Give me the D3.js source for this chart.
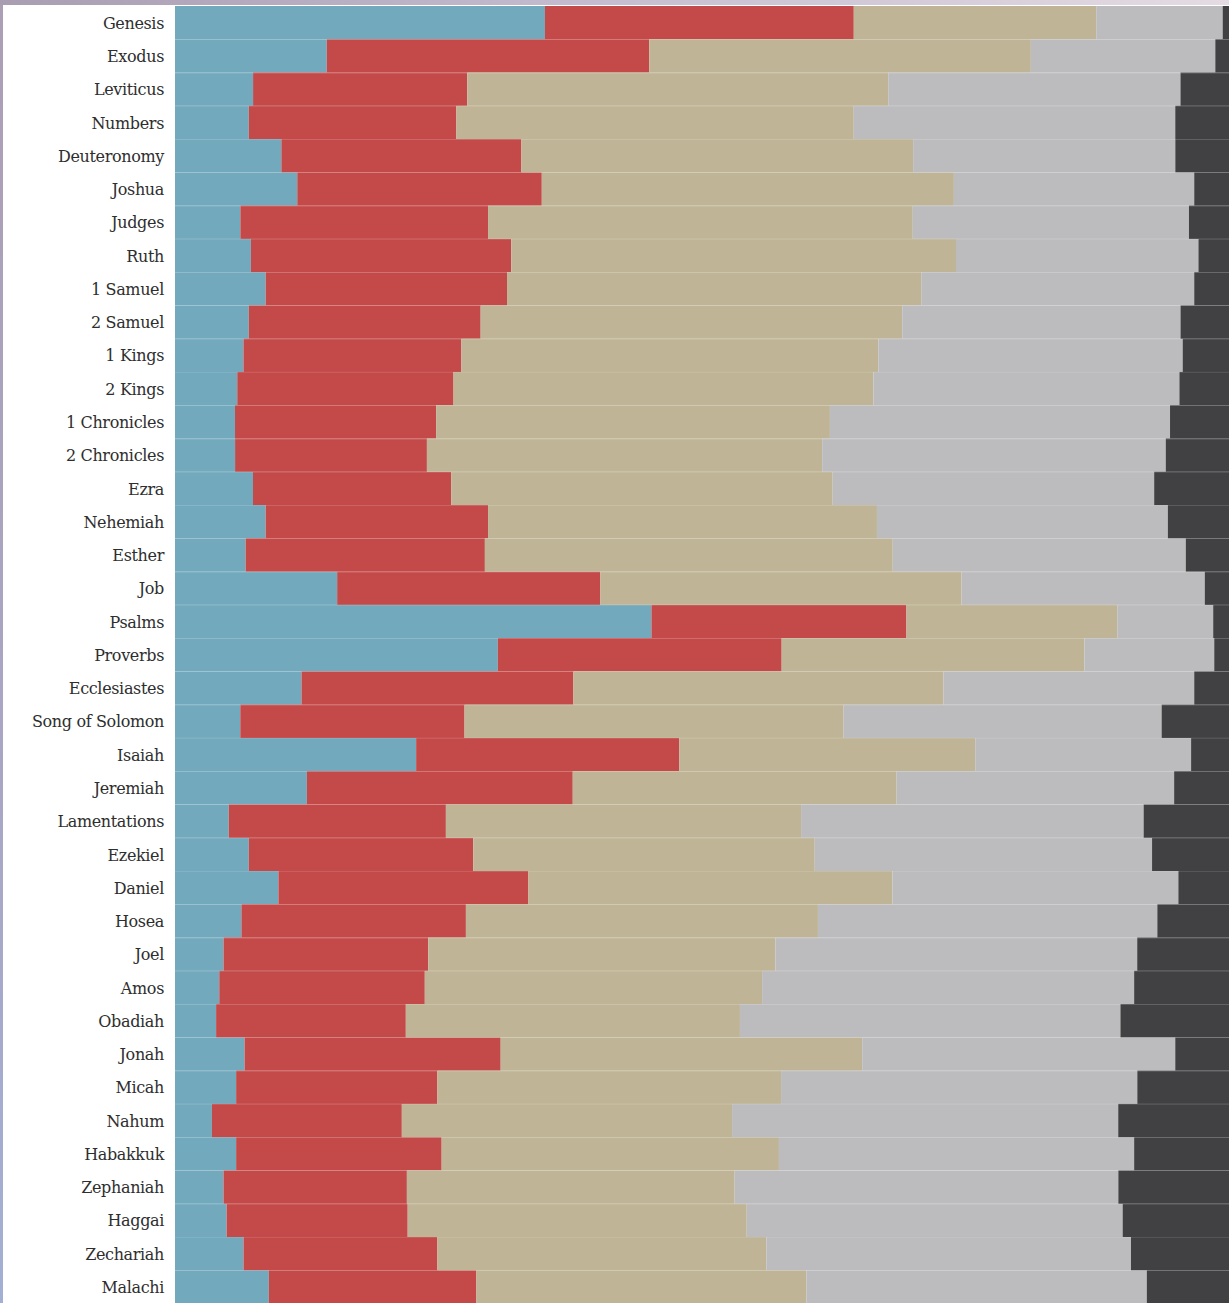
<!DOCTYPE html>
<html lang="en">

<head>
    <script src='https://d3js.org/d3.v7.min.js'></script>
    <style>
        html, body { margin: 0; padding: 0; background: #fff; overflow: hidden; }
        #frame {
            position: absolute; left: 0; top: 0; width: 1229px; height: 1303px;
            background: linear-gradient(to bottom, #ab9fb5 0%, #a9a6c4 60%, #a3b0d3 100%);
        }
        #topband {
            position: absolute; left: 0; top: 0; width: 1229px; height: 5px;
            background: linear-gradient(to right, #a99db1 0%, #c3bace 45%, #e4dbe3 100%);
        }
        svg { position: absolute; left: 3px; top: 5px; background: #fff; }
    </style>
</head>

<body>
    <div id="frame"></div>
    <div id="topband"></div>

    <script>
        var width = 1226, height = 1298;

        // books of the old testament, top to bottom
        var books = ["Genesis", "Exodus", "Leviticus", "Numbers", "Deuteronomy", "Joshua", "Judges", "Ruth",
            "1 Samuel", "2 Samuel", "1 Kings", "2 Kings", "1 Chronicles", "2 Chronicles", "Ezra", "Nehemiah",
            "Esther", "Job", "Psalms", "Proverbs", "Ecclesiastes", "Song of Solomon", "Isaiah", "Jeremiah",
            "Lamentations", "Ezekiel", "Daniel", "Hosea", "Joel", "Amos", "Obadiah", "Jonah", "Micah", "Nahum",
            "Habakkuk", "Zephaniah", "Haggai", "Zechariah", "Malachi"];

        // share of each book (percent) for the five stacked groups, left to right
        var blue = [35.1, 14.4, 7.4, 7.0, 10.1, 11.6, 6.2, 7.2, 8.6, 7.0, 6.5, 5.9, 5.7, 5.7, 7.4, 8.6,
            6.7, 15.4, 45.2, 30.6, 12.0, 6.2, 22.9, 12.5, 5.1, 7.0, 9.8, 6.3, 4.6, 4.2, 3.9, 6.6, 5.8, 3.5,
            5.8, 4.6, 4.9, 6.5, 8.9];
        var red = [29.3, 30.6, 20.3, 19.7, 22.8, 23.2, 23.5, 24.7, 22.9, 22.0, 20.7, 20.5, 19.1, 18.2, 18.8, 21.1,
            22.7, 25.0, 24.2, 26.9, 25.8, 21.3, 25.0, 25.2, 20.6, 21.3, 23.7, 21.3, 19.4, 19.5, 18.0, 24.3, 19.1, 18.0,
            19.5, 17.4, 17.2, 18.4, 19.7];
        var tan = [23.0, 36.2, 39.9, 37.7, 37.2, 39.1, 40.3, 42.2, 39.3, 40.0, 39.6, 39.8, 37.4, 37.5, 36.2, 36.9,
            38.7, 34.3, 20.0, 28.7, 35.1, 36.0, 28.1, 30.7, 33.7, 32.4, 34.5, 33.4, 32.9, 32.0, 31.7, 34.3, 32.6, 31.3,
            32.0, 31.1, 32.2, 31.2, 31.3];
        var gray = [12.0, 17.5, 27.7, 30.5, 24.9, 22.8, 26.2, 23.0, 25.9, 26.4, 28.9, 29.0, 32.3, 32.6, 30.5, 27.6,
            27.8, 23.1, 9.1, 12.3, 23.8, 30.2, 20.5, 26.3, 32.5, 32.0, 27.1, 32.2, 34.3, 35.3, 36.1, 29.7, 33.8, 36.6,
            33.7, 36.4, 35.7, 34.6, 32.3];
        var dark = [0.6, 1.3, 4.6, 5.1, 5.1, 3.3, 3.8, 2.9, 3.3, 4.6, 4.4, 4.7, 5.6, 6.0, 7.1, 5.8,
            4.1, 2.3, 1.5, 1.4, 3.3, 6.4, 3.6, 5.2, 8.1, 7.3, 4.8, 6.8, 8.7, 9.0, 10.3, 5.1, 8.7, 10.5,
            9.0, 10.5, 10.1, 9.3, 7.8];

        var keys = ["blue", "red", "tan", "gray", "dark"];
        var colors = ["#72a9bd", "#c44a4a", "#bfb596", "#bcbcbe", "#414143"];

        var data = books.map(function(b, i) {
            return { book: b, blue: blue[i], red: red[i], tan: tan[i], gray: gray[i], dark: dark[i] };
        });

        var margin = { top: 1, left: 172 };

        var svg = d3.select('body').append('svg').attr('width', width).attr('height', height);

        var x = d3.scaleLinear().domain([0, 1]).range([margin.left, width]);
        var y = d3.scaleBand().domain(books).range([margin.top, margin.top + 33.27 * books.length]).padding(0);

        var series = d3.stack().keys(keys).offset(d3.stackOffsetExpand)(data);

        svg.append('g')
            .selectAll('g')
            .data(series)
            .join('g')
            .attr('fill', function(d, i) { return colors[i]; })
            .selectAll('rect')
            .data(function(d) { return d; })
            .join('rect')
            .attr('x', function(d) { return x(d[0]); })
            .attr('width', function(d) { return x(d[1]) - x(d[0]); })
            .attr('y', function(d) { return y(d.data.book); })
            .attr('height', y.bandwidth());

        // faint row separators
        svg.append('g')
            .selectAll('line')
            .data(books.slice(1))
            .join('line')
            .attr('x1', margin.left).attr('x2', width)
            .attr('y1', function(d) { return Math.round(y(d)) + 0.5; })
            .attr('y2', function(d) { return Math.round(y(d)) + 0.5; })
            .attr('stroke', '#fff')
            .attr('stroke-opacity', 0.1);

        // book labels
        var yAxis = d3.axisLeft(y).tickSize(0).tickPadding(11);
        svg.append('g')
            .attr('transform', 'translate(' + margin.left + ',1)')
            .call(yAxis)
            .call(function(g) { g.select('.domain').remove(); })
            .selectAll('text')
            .attr('font-family', 'DejaVu Serif')
            .attr('font-size', 16)
            .attr('letter-spacing', -0.35)
            .attr('fill', '#2e2e2e');
    </script>

</body>

</html>
